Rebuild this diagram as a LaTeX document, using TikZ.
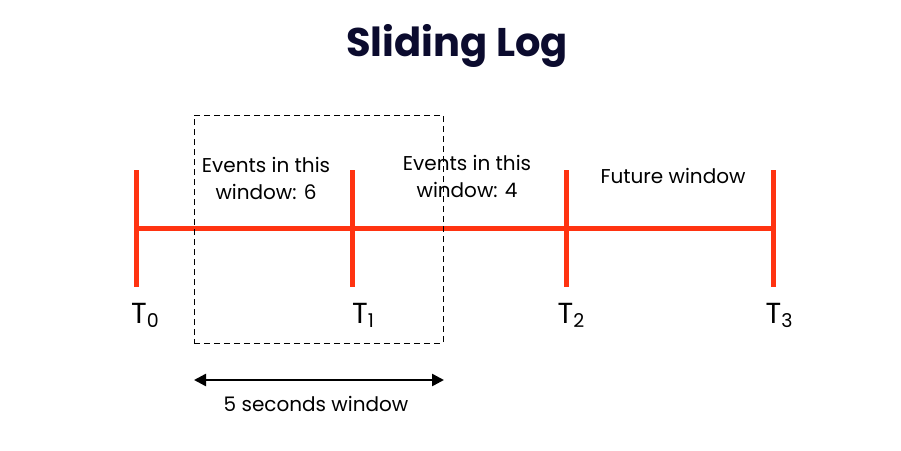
\documentclass[tikz,border=0pt]{standalone}
\usepackage{fontspec}
\setmainfont{Poppins}
\usetikzlibrary{arrows.meta}
\definecolor{tred}{HTML}{FF3311}
\definecolor{navy}{HTML}{0B0B2E}
\tikzset{
  tick/.style={draw=tred,line width=5pt},
  axis/.style={draw=tred,line width=5pt},
  lbl/.style={font=\fontsize{20}{27}\selectfont,align=center,inner sep=0pt,text=black},
  tlbl/.style={font=\fontsize{29}{30}\selectfont,anchor=base,inner sep=0pt},
  win/.style={draw=black,dashed,line width=0.8pt,dash pattern=on 6pt off 4pt},
  span/.style={draw=black,line width=2.5pt,{Triangle[length=12pt,width=12pt]}-{Triangle[length=12pt,width=12pt]}}
}
\newcommand{\tsub}[1]{T\raisebox{-4pt}{\fontsize{19}{19}\selectfont #1}}
\begin{document}
\begin{tikzpicture}[x=1pt,y=-1pt]
\useasboundingbox[fill=white] (0,0) rectangle (901,450);
\node[font=\fontsize{40}{42}\selectfont\bfseries,text=navy] (title) at (457,46) {Sliding Log};
\coordinate (a0) at (136,228);
\coordinate (a3) at (773,228);
\draw[axis] (a0) -- (a3);
\coordinate (t0t) at (136,170); \coordinate (t0b) at (136,287);
\coordinate (t1t) at (352,170); \coordinate (t1b) at (352,287);
\coordinate (t2t) at (566,170); \coordinate (t2b) at (566,287);
\coordinate (t3t) at (773,170); \coordinate (t3b) at (773,287);
\draw[tick] (t0t) -- (t0b);
\draw[tick] (t1t) -- (t1b);
\draw[tick] (t2t) -- (t2b);
\draw[tick] (t3t) -- (t3b);
\node[tlbl] (L0) at (145,323) {\tsub{0}};
\node[tlbl] (L1) at (363,323) {\tsub{1}};
\node[tlbl] (L2) at (571,323) {\tsub{2}};
\node[tlbl] (L3) at (779,323) {\tsub{3}};
\node[win,minimum width=249pt,minimum height=228pt,inner sep=0pt] (box) at (318.5,229) {};
\node[lbl] (e1) at (266,178) {Events in this\\window: 6};
\node[lbl] (e2) at (467,176) {Events in this\\window: 4};
\node[lbl] (fw) at (673,176) {Future window};
\coordinate (s1) at (194,380);
\coordinate (s2) at (444,380);
\draw[span] (s1) -- (s2);
\node[lbl] (sw) at (316,404) {5 seconds window};
\end{tikzpicture}
\end{document}
